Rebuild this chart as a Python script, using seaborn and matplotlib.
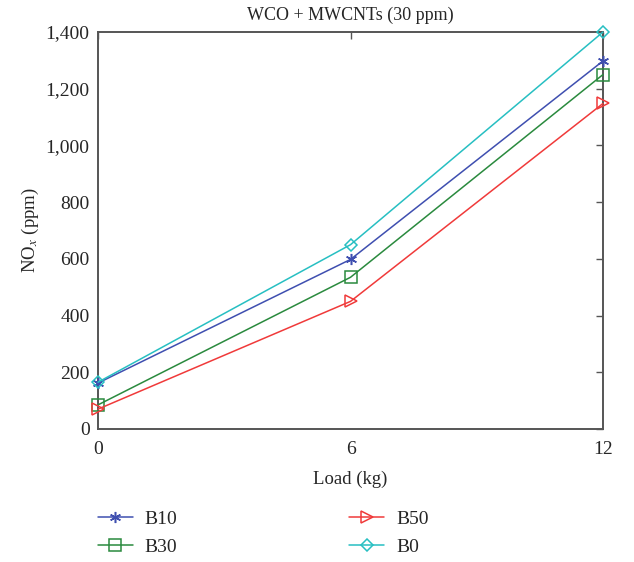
import matplotlib
matplotlib.use('Agg')
import matplotlib.pyplot as plt
import matplotlib.ticker as mticker
import seaborn as sns
import pandas as pd

# data
loads = [0, 6, 12]
b10 = [162, 598, 1298]
b30 = [85, 535, 1250]
b50 = [70, 450, 1148]
b0 = [165, 650, 1400]

series = ['B10', 'B30', 'B50', 'B0']
values = [b10, b30, b50, b0]
colors = ['#3f4fb0', '#2a8a3e', '#f03a3a', '#27bfc2']
markers = [(6, 2, 0), 's', '>', 'D']
msizes = [8, 8, 9, 6.5]

sns.set_style('white')
plt.rcParams['font.family'] = ['Liberation Serif', 'DejaVu Serif']
plt.rcParams['mathtext.fontset'] = 'stix'

fig = plt.figure(figsize=(6.34, 5.62), dpi=100)
ax = fig.add_axes([0.1546, 0.2367, 0.7965, 0.7063])

for name, vals, col, mk, ms in zip(series, values, colors, markers, msizes):
    df = pd.DataFrame({'Load': loads, 'NOx': vals})
    sns.lineplot(data=df, x='Load', y='NOx', ax=ax, color=col, marker=mk,
                 markersize=ms, markerfacecolor='none', markeredgecolor=col,
                 markeredgewidth=1.1, linewidth=1.1, label=name, clip_on=False,
                 zorder=3)

ax.set_xlim(0, 12)
ax.set_ylim(0, 1400)
ax.set_xticks(loads)
ax.set_yticks(range(0, 1401, 200))
ax.yaxis.set_major_formatter(mticker.FuncFormatter(lambda v, p: f'{int(v):,}'))
ax.tick_params(direction='in', top=True, right=True, labelsize=14,
               length=5, width=1, color='#555555', pad=6)
ax.tick_params(axis='x', pad=9)
for s in ax.spines.values():
    s.set_color('#555555')
    s.set_linewidth(1.4)

ax.set_title('WCO + MWCNTs (30 ppm)', fontsize=13, pad=8.5)
ax.set_xlabel('Load (kg)', fontsize=13.5, labelpad=9)
ax.set_ylabel('NO$_x$ (ppm)', fontsize=13.5, labelpad=3)

ax.legend(loc='upper left', bbox_to_anchor=(-0.035, -0.16), ncol=2,
          frameon=False, fontsize=14, handlelength=1.8,
          columnspacing=8.85, labelspacing=0.55, handletextpad=0.6)

fig.savefig('out.png', dpi=100)
